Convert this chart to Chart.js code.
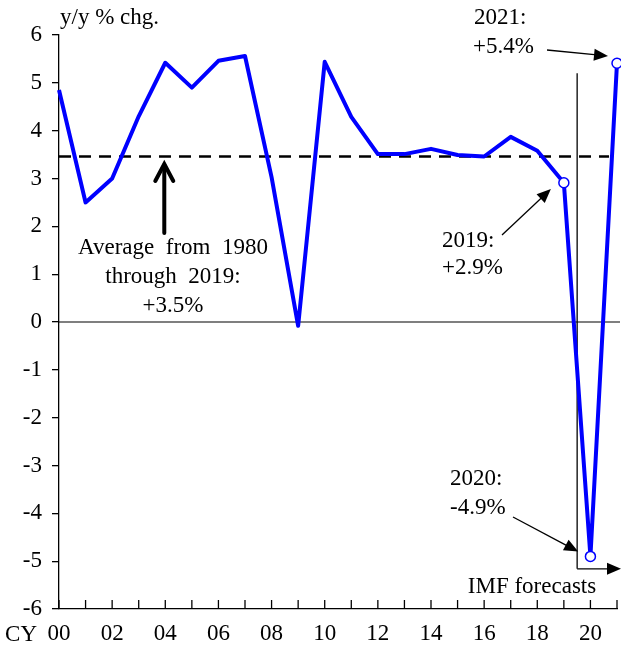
<!DOCTYPE html>
<html>
<head>
<meta charset="utf-8">
<script src="https://cdn.jsdelivr.net/npm/chart.js@4.4.1/dist/chart.umd.min.js"></script>
<style>
  html, body { margin: 0; padding: 0; background: #fff; }
  #wrap { width: 621px; height: 650px; position: relative; }
</style>
</head>
<body>
<div id="wrap"><canvas id="chart"></canvas></div>
<script>
// world real GDP growth, y/y % chg., CY 2000-2021 (2020-21 IMF forecasts)
const years = ['00','01','02','03','04','05','06','07','08','09','10',
               '11','12','13','14','15','16','17','18','19','20','21'];
const growth = [4.85, 2.5, 3.0, 4.3, 5.42, 4.9, 5.46, 5.56, 3.03, -0.08, 5.44,
                4.29, 3.51, 3.51, 3.62, 3.49, 3.46, 3.87, 3.58, 2.91, -4.9, 5.41];
const highlighted = ['19','20','21'];
const avg1980to2019 = 3.46;
const yTicks = [6, 5, 4, 3, 2, 1, 0, -1, -2, -3, -4, -5, -6];

const FONT = '"Liberation Serif", "Times New Roman", serif';
const FSIZE = 23;

// filled arrow head helper
function arrow(ctx, x1, y1, x2, y2, hl, hw){
    const a = Math.atan2(y2 - y1, x2 - x1);
    ctx.beginPath();
    ctx.moveTo(x1, y1);
    ctx.lineTo(x2 - Math.cos(a)*hl*0.8, y2 - Math.sin(a)*hl*0.8);
    ctx.stroke();
    ctx.beginPath();
    ctx.moveTo(x2, y2);
    ctx.lineTo(x2 - Math.cos(a)*hl + Math.sin(a)*hw, y2 - Math.sin(a)*hl - Math.cos(a)*hw);
    ctx.lineTo(x2 - Math.cos(a)*hl - Math.sin(a)*hw, y2 - Math.sin(a)*hl + Math.cos(a)*hw);
    ctx.closePath();
    ctx.fill();
}

// average line, zero line, forecast marker, x ticks (inward) and all notes
const notes = {
    id: 'notes',
    beforeDatasetsDraw(chart){
        const ctx = chart.ctx;
        const xs = chart.scales.x, ys = chart.scales.y;
        ctx.save();
        // zero line
        ctx.strokeStyle = '#000';
        ctx.lineWidth = 1.2;
        ctx.beginPath();
        ctx.moveTo(xs.left, ys.getPixelForValue(0));
        ctx.lineTo(xs.right + 3, ys.getPixelForValue(0));
        ctx.stroke();
        // average dashed line
        ctx.lineWidth = 2.6;
        ctx.setLineDash([12, 8]);
        ctx.beginPath();
        ctx.moveTo(xs.left, ys.getPixelForValue(avg1980to2019));
        ctx.lineTo(xs.getPixelForValue(20.7), ys.getPixelForValue(avg1980to2019));
        ctx.stroke();
        ctx.setLineDash([]);
        // forecast divider
        const xf = (xs.getPixelForValue(19) + xs.getPixelForValue(20)) / 2;
        const yBot = ys.getPixelForValue(-5.16);
        ctx.lineWidth = 1.3;
        ctx.beginPath();
        ctx.moveTo(xf, ys.getPixelForValue(5.2));
        ctx.lineTo(xf, yBot);
        ctx.stroke();
        ctx.fillStyle = '#000';
        arrow(ctx, xf, yBot, xs.right + 4, yBot, 14, 6);
        // inward x ticks
        ctx.lineWidth = 1.3;
        for(let i = 0; i < years.length; i++){
            const x = xs.getPixelForValue(i);
            ctx.beginPath();
            ctx.moveTo(x, ys.bottom);
            ctx.lineTo(x, ys.bottom - 9);
            ctx.stroke();
        }
        ctx.restore();
    },
    afterDraw(chart){
        const ctx = chart.ctx;
        const xs = chart.scales.x, ys = chart.scales.y;
        ctx.save();
        ctx.fillStyle = '#000';
        ctx.strokeStyle = '#000';
        ctx.font = FSIZE + 'px ' + FONT;
        ctx.textBaseline = 'middle';
        ctx.textAlign = 'left';
        ctx.fillText('y/y % chg.', 60, 18);
        ctx.textAlign = 'right';
        ctx.fillText('CY', 37, 635);

        // average note
        ctx.textAlign = 'center';
        const xa = xs.getPixelForValue(4) - 1;
        ctx.fillText('Average  from  1980', 173, 248);
        ctx.fillText('through  2019:', 173, 277);
        ctx.fillText('+3.5%', 173, 306);
        ctx.lineWidth = 4;
        ctx.lineCap = 'round';
        ctx.beginPath();
        ctx.moveTo(xa, 233);
        ctx.lineTo(xa, 165);
        ctx.stroke();
        ctx.beginPath();
        ctx.moveTo(xa - 9, 181);
        ctx.lineTo(xa, 164);
        ctx.lineTo(xa + 9, 181);
        ctx.stroke();
        ctx.lineCap = 'butt';

        // point notes
        ctx.textAlign = 'left';
        ctx.lineWidth = 1.3;
        ctx.fillText('2021:', 474, 18);
        ctx.fillText('+5.4%', 473, 47);
        arrow(ctx, 547, 50, xs.getPixelForValue(21) - 9, ys.getPixelForValue(5.56), 14, 6);

        ctx.fillText('2019:', 442, 241);
        ctx.fillText('+2.9%', 442, 268);
        arrow(ctx, 502, 235, xs.getPixelForValue(19) - 13, ys.getPixelForValue(2.78), 14, 6);

        ctx.fillText('2020:', 450, 479);
        ctx.fillText('-4.9%', 450, 508);
        const xf = (xs.getPixelForValue(19) + xs.getPixelForValue(20)) / 2;
        arrow(ctx, 513, 517, xf + 1, ys.getPixelForValue(-4.8), 14, 6);

        ctx.textAlign = 'center';
        ctx.fillText('IMF forecasts', 532, 587);
        ctx.restore();
    }
};

new Chart(document.getElementById('chart'), {
    type: 'line',
    data: {
        labels: years,
        datasets: [{
            data: growth,
            borderColor: '#0000ff',
            borderWidth: 4,
            borderJoinStyle: 'round',
            tension: 0,
            clip: false,
            pointRadius: years.map(y => highlighted.includes(y) ? 5 : 0),
            pointBackgroundColor: '#fff',
            pointBorderColor: '#0000ff',
            pointBorderWidth: 1.5
        }]
    },
    options: {
        responsive: true,
        maintainAspectRatio: false,
        animation: false,
        layout: { autoPadding: false, padding: { top: 35, right: 4, left: 0, bottom: 0 } },
        plugins: {
            legend: { display: false },
            tooltip: { enabled: false }
        },
        scales: {
            x: {
                type: 'category',
                offset: false,
                afterFit: s => { s.height = 41; s.paddingLeft = 0; s.paddingRight = 0; },
                border: { color: '#000', width: 1.3 },
                grid: { display: true, drawOnChartArea: false, drawTicks: false },
                ticks: {
                    autoSkip: false,
                    maxRotation: 0,
                    padding: 11,
                    color: '#000',
                    font: { family: FONT, size: FSIZE },
                    callback: function(v, i){ return i % 2 === 0 ? years[i] : ''; }
                }
            },
            y: {
                min: -6,
                max: 6,
                afterFit: s => { s.width = 59; s.paddingTop = 0; s.paddingBottom = 0; },
                afterBuildTicks: s => { s.ticks = yTicks.map(v => ({ value: v })); },
                border: { color: '#000', width: 1.3 },
                grid: { drawOnChartArea: false, drawTicks: true, tickLength: 7, color: '#000', lineWidth: 1.3 },
                ticks: {
                    padding: 10,
                    color: '#000',
                    font: { family: FONT, size: FSIZE }
                }
            }
        }
    },
    plugins: [notes]
});
</script>
</body>
</html>
